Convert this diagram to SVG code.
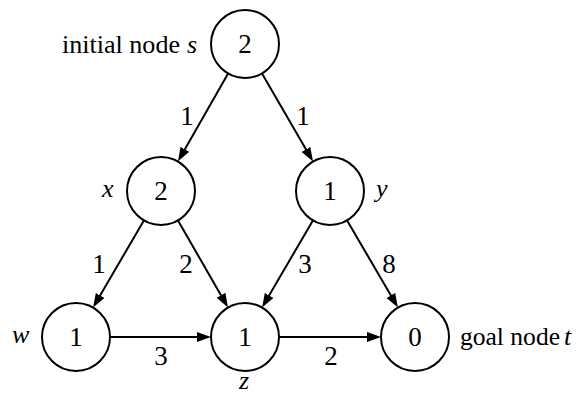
<svg xmlns="http://www.w3.org/2000/svg" width="582" height="394" viewBox="0 0 582 394">
  <style>
    .node circle { fill: #fff; stroke: #000; stroke-width: 2; }
    text { font-family: "Liberation Serif", "Times New Roman", serif; font-size: 26px; fill: #000; }
    .num { text-anchor: middle; font-size: 27px; }
    .it { font-style: italic; }
    .edges line { stroke: #000; stroke-width: 2; marker-end: url(#arrow); }
  </style>
  <defs>
    <marker id="arrow" markerUnits="userSpaceOnUse" markerWidth="18" markerHeight="12" viewBox="0 -6 18 12" refX="10" refY="0" orient="auto">
      <path d="M0,-5 L14,0 L0,5 Z" fill="#000"/>
    </marker>
  </defs>
  <rect width="582" height="394" fill="#fff"/>

  <g id="connectors" class="edges">
    <line x1="228.1" y1="73.5" x2="179.9" y2="158.0"/>
    <line x1="262.0" y1="73.4" x2="311.0" y2="158.1"/>
    <line x1="143.9" y1="220.4" x2="95.1" y2="304.1"/>
    <line x1="178.0" y1="220.5" x2="226.0" y2="304.0"/>
    <line x1="312.9" y1="220.4" x2="264.1" y2="304.1"/>
    <line x1="347.1" y1="220.4" x2="395.9" y2="304.1"/>
    <line x1="110" y1="337" x2="207" y2="337"/>
    <line x1="279" y1="337" x2="377" y2="337"/>
  </g>

  <g id="edge-labels">
    <text class="num" x="187" y="125">1</text>
    <text class="num" x="303" y="125">1</text>
    <text class="num" x="99" y="273">1</text>
    <text class="num" x="186" y="273">2</text>
    <text class="num" x="305" y="273">3</text>
    <text class="num" x="389" y="273">8</text>
    <text class="num" x="161" y="365">3</text>
    <text class="num" x="331" y="365">2</text>
  </g>

  <g id="node-s" class="node">
    <circle cx="245" cy="44" r="34"/>
    <text class="num" x="245" y="53">2</text>
    <text x="62" y="53"><tspan textLength="118" lengthAdjust="spacingAndGlyphs">initial node</tspan><tspan class="it" x="187">s</tspan></text>
  </g>
  <g id="node-x" class="node">
    <circle cx="161" cy="191" r="34"/>
    <text class="num" x="161" y="200">2</text>
    <text class="it" x="102" y="197">x</text>
  </g>
  <g id="node-y" class="node">
    <circle cx="330" cy="191" r="34"/>
    <text class="num" x="330" y="200">1</text>
    <text class="it" x="376" y="197">y</text>
  </g>
  <g id="node-w" class="node">
    <circle cx="76" cy="337" r="34"/>
    <text class="num" x="76" y="346">1</text>
    <text class="it" x="12" y="343">w</text>
  </g>
  <g id="node-z" class="node">
    <circle cx="245" cy="337" r="34"/>
    <text class="num" x="245" y="346">1</text>
    <text class="it" x="239" y="389">z</text>
  </g>
  <g id="node-t" class="node">
    <circle cx="415" cy="337" r="34"/>
    <text class="num" x="415" y="346">0</text>
    <text x="460" y="345"><tspan textLength="100" lengthAdjust="spacingAndGlyphs">goal node</tspan><tspan class="it" x="564">t</tspan></text>
  </g>
</svg>
